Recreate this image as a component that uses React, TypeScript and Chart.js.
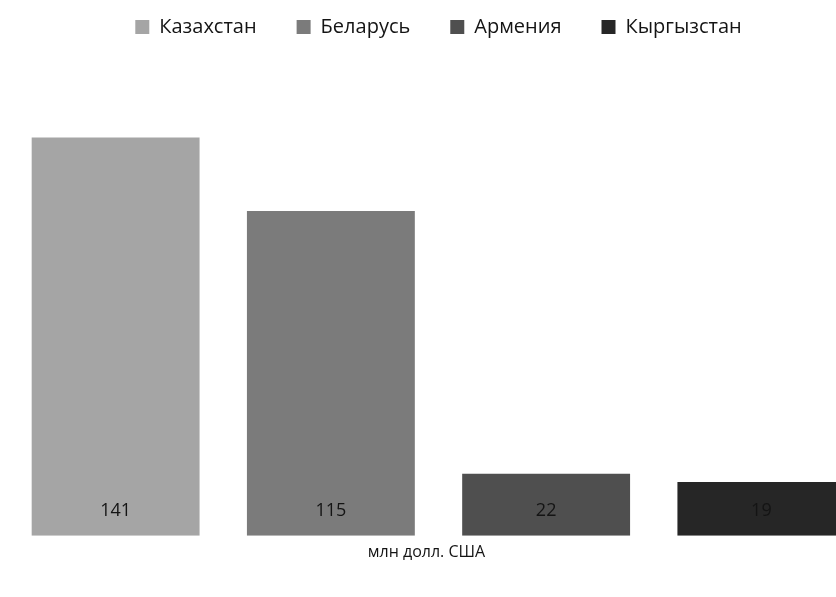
import React, { useEffect, useRef } from "react";
import { Chart, registerables } from "chart.js";
Chart.register(...registerables);

const categories = ["млн долл. США"];
const seriesNames = ["Казахстан", "Беларусь", "Армения", "Кыргызстан"];
const seriesValues = [[141], [115], [22], [19]];
const seriesColors = ["#a5a5a5", "#7b7b7b", "#4f4f4f", "#262626"];

const FONT = "'Open Sans', 'Noto Sans', sans-serif";

const valueLabels = {
  id: "valueLabels",
  afterDatasetsDraw(chart: any) {
    const ctx = chart.ctx;
    ctx.save();
    ctx.font = `18px ${FONT}`;
    ctx.fillStyle = "#141414";
    ctx.textAlign = "center";
    ctx.textBaseline = "middle";
    chart.data.datasets.forEach((ds: any, i: number) => {
      const meta = chart.getDatasetMeta(i);
      meta.data.forEach((el: any, j: number) => {
        ctx.fillText(String(ds.data[j]), el.x, el.base - 25);
      });
    });
    ctx.restore();
  },
};

export default function App() {
  const ref = useRef<HTMLCanvasElement | null>(null);
  useEffect(() => {
    document.body.style.margin = "0";
    const chart = new Chart(ref.current as HTMLCanvasElement, {
      type: "bar",
      data: {
        labels: categories,
        datasets: seriesNames.map((n, i) => ({
          label: n,
          data: seriesValues[i],
          backgroundColor: seriesColors[i],
          borderWidth: 0,
          barPercentage: 0.78,
          categoryPercentage: 1,
        })),
      },
      options: {
        animation: false,
        responsive: false,
        maintainAspectRatio: false,
        layout: { padding: { left: 8, right: 11, top: -23, bottom: 36 } },
        plugins: {
          legend: {
            position: "top",
            labels: {
              boxWidth: 14,
              boxHeight: 14,
              padding: 40,
              color: "#141414",
              font: { family: FONT, size: 20 },
            },
          },
          tooltip: { enabled: false },
        },
        scales: {
          x: {
            grid: { display: false },
            border: { display: false },
            ticks: {
              color: "#141414",
              font: { family: FONT, size: 16 },
              padding: -1,
              labelOffset: -12,
            },
          },
          y: {
            display: false,
            min: 0,
            max: 173,
          },
        },
      },
      plugins: [valueLabels],
    });
    return () => chart.destroy();
  }, []);
  return (
    <div style={{ width: 836, height: 597, overflow: "hidden", background: "#fff" }}>
      <div style={{ width: 880, height: 597 }}>
        <canvas ref={ref} width={880} height={597} style={{ width: 880, height: 597, display: "block" }} />
      </div>
    </div>
  );
}
